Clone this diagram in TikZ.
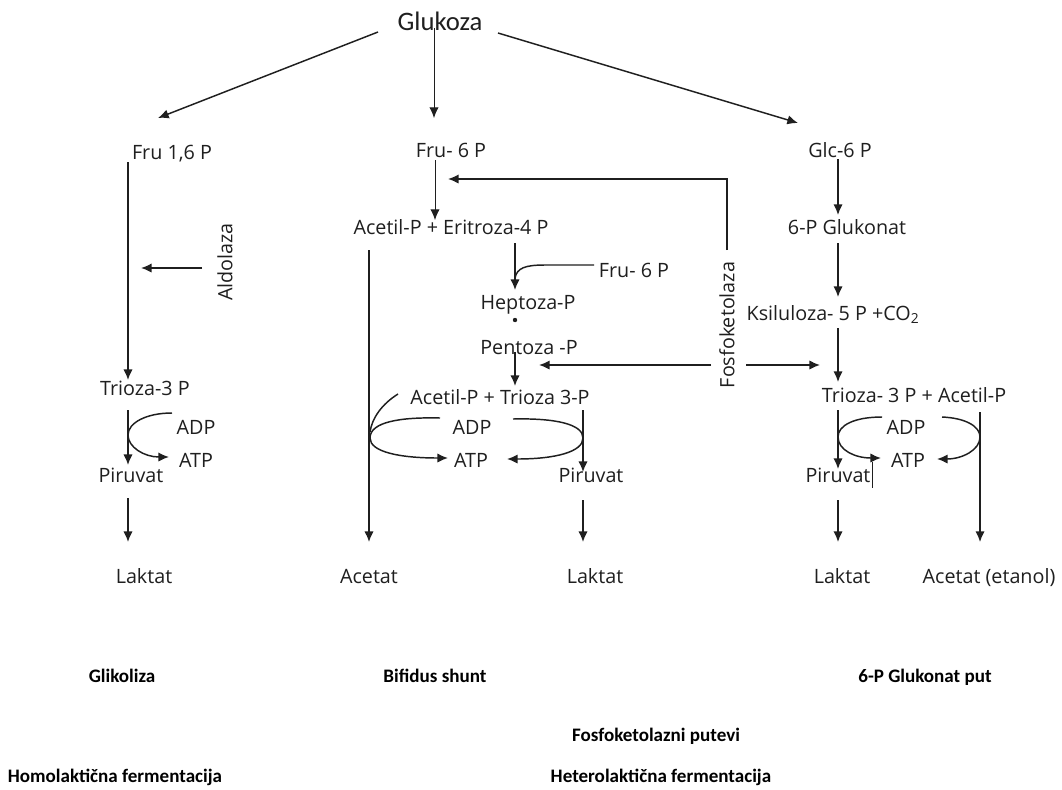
\documentclass[tikz,border=0pt]{standalone}
\usepackage{fontspec}
\setmainfont{Open Sans}
\newfontfamily\calib{Carlito}
\usetikzlibrary{arrows.meta}
\begin{document}
\begin{tikzpicture}[x=0.75pt,y=-0.75pt,
  lbl/.style={inner sep=0pt, anchor=base, font=\fontsize{14.8}{17}\selectfont, text=black!88},
  ttl/.style={inner sep=0pt, anchor=base, font=\calib\bfseries\fontsize{14.3}{17}\selectfont},
  rot/.style={inner sep=0pt, anchor=center, rotate=90, font=\fontsize{14.8}{17}\selectfont, text=black!88},
  conn/.style={line width=1.1pt, draw=black!88, -{Latex[length=8pt,width=7pt]}},
  thinconn/.style={line width=0.7pt, draw=black!88, -{Latex[length=8pt,width=7pt]}},
  plain/.style={line width=1.1pt, draw=black!88},
]
\useasboundingbox[fill=white] (0,0) rectangle (1062,789);

% ---------- text nodes ----------
\node[inner sep=0pt, anchor=base, font=\calib\fontsize{20}{23}\selectfont, text=black!88] (gluk) at (440,30) {Glukoza};

\node[lbl] (fru16) at (172,159) {Fru 1,6 P};
\node[lbl] (fru6) at (451,157) {Fru- 6 P};
\node[lbl] (glc6) at (840,157) {Glc-6 P};
\node[rot] (aldo) at (225,262) {Aldolaza};
\node[lbl] (aceri) at (451,234) {Acetil-P + Eritroza-4 P};
\node[lbl] (glukon) at (847,234) {6-P Glukonat};
\node[lbl] (fru6b) at (634,277) {Fru- 6 P};
\node[lbl] (hept) at (528,309) {Heptoza-P};
\node[lbl] (ksil) at (833,320) {Ksiluloza- 5 P +CO\textsubscript{2}};
\node[lbl] (pent) at (529,354) {Pentoza -P};
\node[rot] (fosfo) at (727,325) {Fosfoketolaza};
\node[lbl] (tri1) at (145,395) {Trioza-3 P};
\node[lbl] (actri) at (500,404) {Acetil-P + Trioza 3-P};
\node[lbl] (tri3) at (914,402) {Trioza- 3 P + Acetil-P};

\node[lbl] (adp1) at (196,434) {ADP};
\node[lbl] (atp1) at (196,467) {ATP};
\node[lbl] (adp2) at (472,434) {ADP};
\node[lbl] (atp2) at (471,467) {ATP};
\node[lbl] (adp3) at (906,434) {ADP};
\node[lbl] (atp3) at (908,467) {ATP};

\node[lbl] (pir1) at (131,482) {Piruvat};
\node[lbl] (pir2) at (591,482) {Piruvat};
\node[lbl] (pir3) at (838,482) {Piruvat};

\node[lbl] (lak1) at (144,583) {Laktat};
\node[lbl] (acet) at (369,583) {Acetat};
\node[lbl] (lak2) at (595,583) {Laktat};
\node[lbl] (lak3) at (842,583) {Laktat};
\node[lbl] (acetet) at (989,583) {Acetat (etanol)};

\node[ttl] (glik) at (122,682) {Glikoliza};
\node[ttl] (bif) at (435,682) {Bifidus shunt};
\node[ttl] (gput) at (925,682) {6-P Glukonat put};
\node[ttl] (fput) at (656,741) {Fosfoketolazni putevi};
\node[ttl] (homo) at (115,782) {Homolaktična fermentacija};
\node[ttl] (hetero) at (661,782) {Heterolaktična fermentacija};

% ---------- coordinates ----------
\coordinate (g-l) at (378,32);   \coordinate (t-l) at (158,118);
\coordinate (g-m) at (434,28);   \coordinate (t-m) at (434,118);
\coordinate (g-r) at (498,33);   \coordinate (t-r) at (798,123);

\coordinate (c1a) at (128,162);  \coordinate (c1b) at (128,380);
\coordinate (al-s) at (202,268); \coordinate (al-e) at (141,268);
\coordinate (c1c) at (128,410);  \coordinate (c1d) at (128,465);
\coordinate (c1e) at (128,498);  \coordinate (c1f) at (128,542);

\coordinate (m1a) at (435,160);  \coordinate (m1b) at (435,220);
\coordinate (fk-a) at (727,250); \coordinate (fk-b) at (727,179); \coordinate (fk-c) at (448,179);
\coordinate (mv-a) at (369,250); \coordinate (mv-b) at (369,542);
\coordinate (h-a) at (515,243);  \coordinate (h-b) at (515,290);
\coordinate (h-j) at (515,278);  \coordinate (h-f) at (594,265);
\coordinate (p-a) at (515,352);  \coordinate (p-b) at (515,386);
\coordinate (fl-s) at (711,365); \coordinate (fl-e) at (539,365);
\coordinate (fr-s) at (746,365); \coordinate (fr-e) at (820,365);
\coordinate (mr-a) at (583,410); \coordinate (mr-b) at (583,472);
\coordinate (mr-c) at (583,500); \coordinate (mr-d) at (583,542);

\coordinate (r1a) at (838,159);  \coordinate (r1b) at (838,215);
\coordinate (r2a) at (838,243);  \coordinate (r2b) at (838,297);
\coordinate (r3a) at (838,328);  \coordinate (r3b) at (838,382);
\coordinate (r4a) at (838,410);  \coordinate (r4b) at (838,469);
\coordinate (r5a) at (980,412);  \coordinate (r5b) at (980,542);
\coordinate (r6a) at (838,500);  \coordinate (r6b) at (838,542);
\coordinate (bar-a) at (872,462); \coordinate (bar-b) at (872,488);

% ---------- connectors ----------
\draw[conn] (g-l) -- (t-l);
\draw[thinconn] (g-m) -- (t-m);
\draw[conn] (g-r) -- (t-r);

% Glikoliza
\draw[conn] (c1a) -- (c1b);
\draw[conn] (al-s) -- (al-e);
\draw[conn] (c1c) -- (c1d);
\draw[conn] (172,413) .. controls (146,413) and (128,423) .. (128,435)
                     .. controls (128,447) and (144,457) .. (169,457);
\draw[conn] (c1e) -- (c1f);

% Bifidus shunt
\draw[thinconn] (m1a) -- (m1b);
\draw[conn] (fk-a) -- (fk-b) -- (fk-c);
\draw[conn] (mv-a) -- (mv-b);
\draw[conn] (h-a) -- (h-b);
\draw[plain] (h-j) .. controls (517,268) and (525,265) .. (545,265) -- (h-f);
\fill[black!88] (515,320) circle (2.2);
\draw[conn] (p-a) -- (p-b);
\draw[conn] (fl-s) -- (fl-e);
\draw[conn] (fr-s) -- (fr-e);
\draw[plain] (398,394) .. controls (382,404) and (372,418) .. (370,432);
\draw[conn] (440,418) .. controls (400,417) and (370,422) .. (370,438)
                     .. controls (370,452) and (400,458) .. (448,458);
\draw[conn] (513,419) .. controls (555,418) and (583,424) .. (583,438)
                     .. controls (583,452) and (555,459) .. (507,459);
\draw[conn] (mr-a) -- (mr-b);
\draw[conn] (mr-c) -- (mr-d);

% 6-P Glukonat put
\draw[conn] (r1a) -- (r1b);
\draw[conn] (r2a) -- (r2b);
\draw[conn] (r3a) -- (r3b);
\draw[conn] (r4a) -- (r4b);
\draw[conn] (r5a) -- (r5b);
\draw[conn] (882,417) .. controls (855,417) and (838,425) .. (838,437)
                     .. controls (838,450) and (855,458) .. (881,458);
\draw[conn] (942,417) .. controls (965,418) and (980,426) .. (980,437)
                     .. controls (980,450) and (962,459) .. (937,459);
\draw[line width=0.7pt, draw=black!88] (bar-a) -- (bar-b);
\draw[conn] (r6a) -- (r6b);
\end{tikzpicture}
\end{document}
